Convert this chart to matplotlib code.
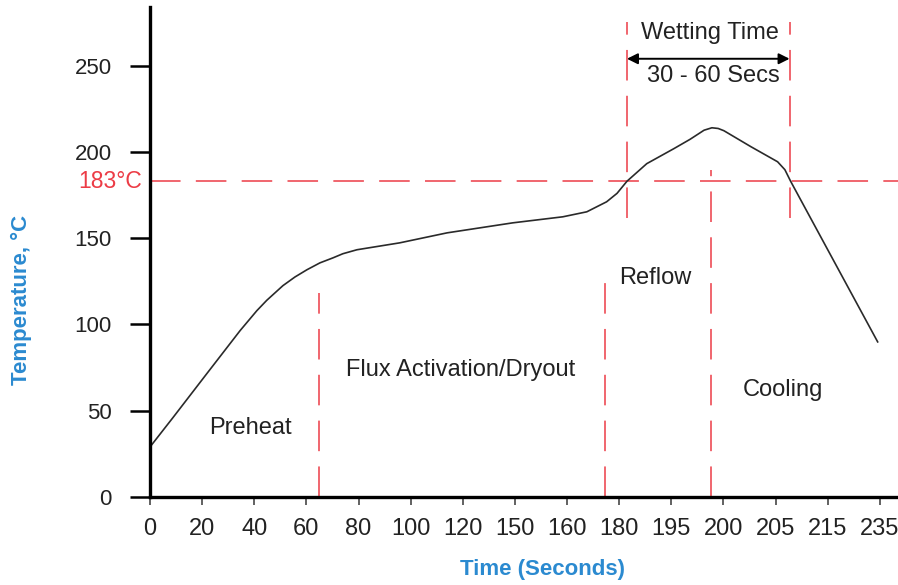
import matplotlib
matplotlib.use("Agg")
import matplotlib.pyplot as plt

plt.rcParams['font.family'] = ['Liberation Sans', 'DejaVu Sans']

# x axis is drawn on evenly spaced slots with the original (uneven) time labels
tick_labels = ['0', '20', '40', '60', '80', '100', '120', '150', '160',
               '180', '195', '200', '205', '215', '235']
tick_pos = list(range(len(tick_labels)))

# reflow profile (x in tick-slot units, y in deg C)
profile_x = [0.0, 0.44, 1.09, 1.73, 2.05, 2.24, 2.55, 2.78, 3.01, 3.26, 3.51,
             3.70, 3.97, 4.79, 5.70, 6.96, 7.92, 8.38, 8.57, 8.76, 8.96, 9.15,
             9.53, 10.05, 10.36, 10.63, 10.78, 10.90, 11.01, 11.53, 12.04,
             12.18, 12.29, 13.96]
profile_y = [29, 46.0, 71.5, 96.5, 108.0, 114.0, 122.5, 127.5, 131.7, 135.7,
             138.6, 141.0, 143.3, 147.3, 153.1, 158.9, 162.4, 165.3, 168.2,
             171.1, 176.0, 183, 193.2, 201.9, 207.3, 212.6, 214.0, 213.6, 212.3,
             203.0, 194.3, 189.7, 183, 89.9]

melt_temp = 183
# phase boundaries: (x, top of dashed line)
phase_lines = [(3.24, 118), (8.73, 130.5), (10.76, 189.7)]
wetting_x = [9.15, 12.27]
wetting_span = (161.8, 275.5)

phase_labels = [('Preheat', 1.92, 40), ('Flux Activation/Dryout', 5.96, 73.7),
                ('Reflow', 9.70, 127), ('Cooling', 12.14, 62)]

red = '#ec3c46'
blue = '#2b8ad0'
txt = '#222222'

fig = plt.figure(figsize=(8.98, 5.85), dpi=100)
ax = fig.add_axes([150 / 898, 88 / 585, 748 / 898, 490 / 585])

ax.plot(profile_x, profile_y, color='#2a2a2a', lw=1.2, zorder=3,
        solid_joinstyle='round')

dash = (20, 10)
ax.plot([0, 14.35], [melt_temp, melt_temp], color=red, lw=1.1, dashes=dash, zorder=2)
for x, top in phase_lines:
    ax.plot([x, x], [0, top], color=red, lw=1.1, dashes=dash, zorder=2)
for x in wetting_x:
    ax.plot([x, x], list(wetting_span), color=red, lw=1.1, dashes=dash, zorder=2)

ax.annotate('', xy=(wetting_x[0], 254), xytext=(wetting_x[1], 254),
            arrowprops=dict(arrowstyle='<|-|>', color='black', lw=1.4,
                            mutation_scale=16, shrinkA=0, shrinkB=0))
ax.text(10.74, 269, 'Wetting Time', ha='center', va='center', fontsize=17, color=txt)
ax.text(10.80, 244, '30 - 60 Secs', ha='center', va='center', fontsize=17, color=txt)

for label, x, y in phase_labels:
    ax.text(x, y, label, ha='center', va='center', fontsize=17, color=txt)

ax.text(-0.011, melt_temp, '183°C', transform=ax.get_yaxis_transform(),
        ha='right', va='center', fontsize=16.5, color=red, clip_on=False)

ax.set_xlim(0, 14.35)
ax.set_ylim(0, 284)
ax.set_xticks(tick_pos)
ax.set_xticklabels(tick_labels, fontsize=17, color=txt)
ax.set_yticks([0, 50, 100, 150, 200, 250])
ax.tick_params(axis='y', length=14.5, width=1.8, pad=13, labelsize=16, labelcolor=txt)
ax.tick_params(axis='x', length=6, width=1.3, pad=9, color='#555555')

for s in ['top', 'right']:
    ax.spines[s].set_visible(False)
for s in ['left', 'bottom']:
    ax.spines[s].set_linewidth(2.4)
ax.spines['left'].set_zorder(4)

fig.text(542 / 898, 1 - 570 / 585, 'Time (Seconds)', ha='center', va='center',
         fontsize=16, fontweight='bold', color=blue)
fig.text(21 / 898, 1 - 300 / 585, 'Temperature, °C', ha='center', va='center',
         rotation=90, fontsize=16, fontweight='bold', color=blue)

fig.savefig('out.png', dpi=100)
